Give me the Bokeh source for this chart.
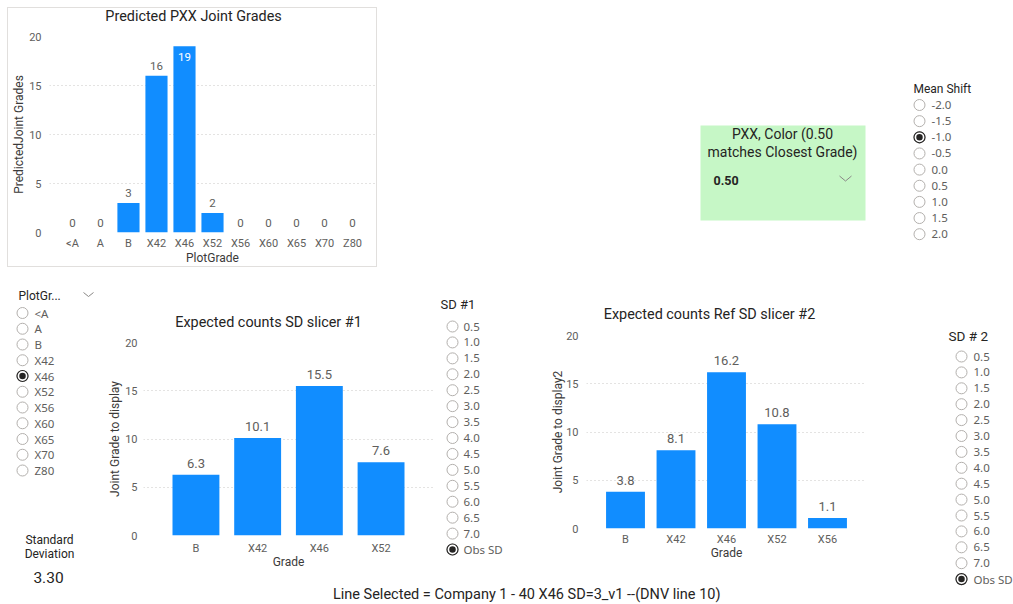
from bokeh.plotting import figure
from bokeh.models import ColumnDataSource, FactorRange, Range1d, LabelSet, FixedTicker
from bokeh.layouts import row, column
from bokeh.embed import file_html
from bokeh.resources import INLINE
from bokeh.core.properties import value

# ---------------- data ----------------
plot_grades = ["<A", "A", "B", "X42", "X46", "X52", "X56", "X60", "X65", "X70", "Z80"]
predicted_counts = [0, 0, 3, 16, 19, 2, 0, 0, 0, 0, 0]

sd1_grades = ["B", "X42", "X46", "X52"]
sd1_counts = [6.3, 10.1, 15.5, 7.6]

sd2_grades = ["B", "X42", "X46", "X52", "X56"]
sd2_counts = [3.8, 8.1, 16.2, 10.8, 1.1]

y_ticks = [0, 5, 10, 15, 20]
y_max = 20

mean_shift_options = ["-2.0", "-1.5", "-1.0", "-0.5", "0.0", "0.5", "1.0", "1.5", "2.0"]
mean_shift_selected = "-1.0"
sd_options = ["0.5", "1.0", "1.5", "2.0", "2.5", "3.0", "3.5", "4.0",
              "4.5", "5.0", "5.5", "6.0", "6.5", "7.0", "Obs SD"]
sd1_selected = "Obs SD"
sd2_selected = "Obs SD"
plot_grade_selected = "X46"
standard_deviation = 3.30
pxx_color = 0.50
line_selected = "Company 1 - 40 X46 SD=3_v1  --(DNV line 10)"

# ---------------- styles ----------------
BLUE = "#118DFF"
DARK = "#252423"
AXIS_C = "#3B3A39"
GREY = "#605E5C"
GRID = "#C8C6C4"
RING = "#B3B0AD"
DIN = "Roboto"
SEGOE = "Noto Sans"
PAGE_W, PAGE_H = 1013, 604


def canvas(x0, y0, w, h):
    """Blank figure whose data space is page pixels (y grows downwards)."""
    p = figure(width=w, height=h, x_range=Range1d(x0, x0 + w),
               y_range=Range1d(y0 + h, y0), min_border=0,
               x_axis_location=None, y_axis_location=None,
               toolbar_location=None, tools="", output_backend="svg")
    p.xgrid.visible = False
    p.ygrid.visible = False
    p.outline_line_color = None
    p.background_fill_color = None
    p.border_fill_color = None
    return p


def box(fig):
    # each figure in its own container so frames are not aligned to neighbours
    return column(fig)


def put_text(p, x, y, s, size="12px", color=DARK, font=DIN, align="left", style="normal"):
    p.text(x=[x], y=[y], text=[s], text_font=value(font), text_font_size=size,
           text_color=color, text_align=align, text_baseline="middle",
           text_font_style=style)


def bar_chart(cats, counts, *, origin, size, frame, title_h, pad, bar_width, title,
              title_at, y_label, x_label, fmt, value_size, value_gap, tick_size,
              axis_size, y_standoff, x_standoff, y_title_standoff, x_title_standoff,
              styles=None):
    """frame = page coords (left, y of top tick, right, y of zero line)."""
    ox, oy = origin
    w, h = size
    fl, ft, fr, fb = frame

    head = canvas(ox, oy, w, title_h)
    put_text(head, title_at[0], title_at[1], title, size="14.4px", align="center")

    cy = oy + title_h
    ch = h - title_h
    p = figure(width=w, height=ch,
               x_range=FactorRange(*cats, range_padding=pad),
               y_range=Range1d(0, y_max),
               min_border_left=fl - ox, min_border_right=ox + w - fr,
               min_border_top=ft - cy, min_border_bottom=cy + ch - fb,
               toolbar_location=None, tools="", output_backend="svg")
    p.outline_line_color = None
    p.background_fill_color = None
    p.border_fill_color = None
    p.xgrid.visible = False
    p.ygrid.grid_line_color = GRID
    p.ygrid.grid_line_dash = "1 3"
    p.ygrid.grid_line_width = 1
    p.yaxis.ticker = FixedTicker(ticks=y_ticks)

    p.axis.axis_line_color = None
    p.axis.major_tick_line_color = None
    p.axis.minor_tick_line_color = None
    p.axis.major_tick_in = 0
    p.axis.major_tick_out = 0
    p.axis.minor_tick_in = 0
    p.axis.minor_tick_out = 0
    p.axis.major_label_text_font = DIN
    p.axis.major_label_text_font_size = tick_size
    p.axis.major_label_text_color = GREY
    p.axis.axis_label_text_font = DIN
    p.axis.axis_label_text_font_size = axis_size
    p.axis.axis_label_text_font_style = "normal"
    p.axis.axis_label_text_color = AXIS_C
    p.yaxis.axis_label = y_label
    p.xaxis.axis_label = x_label
    p.yaxis.major_label_standoff = y_standoff
    p.xaxis.major_label_standoff = x_standoff
    p.yaxis.axis_label_standoff = y_title_standoff
    p.xaxis.axis_label_standoff = x_title_standoff

    src = ColumnDataSource(dict(cat=cats, val=counts))
    p.vbar(x="cat", top="val", width=bar_width, source=src,
           fill_color=BLUE, line_color=None)

    # data labels: above the bar, or inside it when there is no room on top
    inside = [v > 0.9 * y_max for v in counts]
    out_src = ColumnDataSource(dict(
        cat=[c for c, i in zip(cats, inside) if not i],
        val=[v for v, i in zip(counts, inside) if not i],
        txt=[fmt.format(v) for v, i in zip(counts, inside) if not i]))
    in_src = ColumnDataSource(dict(
        cat=[c for c, i in zip(cats, inside) if i],
        val=[v for v, i in zip(counts, inside) if i],
        txt=[fmt.format(v) for v, i in zip(counts, inside) if i]))
    p.add_layout(LabelSet(x="cat", y="val", text="txt", source=out_src,
                          y_offset=value_gap, text_align="center",
                          text_baseline="alphabetic", text_font=value(DIN),
                          text_font_size=value_size, text_color=GREY))
    p.add_layout(LabelSet(x="cat", y="val", text="txt", source=in_src,
                          y_offset=-15, text_align="center",
                          text_baseline="alphabetic", text_font=value(DIN),
                          text_font_size=value_size, text_color="white"))

    wrap = column(box(head), box(p))
    if styles:
        wrap.styles = styles
    return wrap


def slicer(p, options, selected, *, circle_x, text_x, first_y, step):
    n = len(options)
    ys = [first_y + i * step for i in range(n)]
    p.scatter(x=[circle_x] * n, y=ys, size=11, fill_color="white",
              line_color=RING, line_width=1)
    k = options.index(selected)
    p.scatter(x=[circle_x], y=[ys[k]], size=11, fill_color="white",
              line_color=DARK, line_width=1.2)
    p.scatter(x=[circle_x], y=[ys[k]], size=6.5, fill_color=DARK, line_color=None)
    p.text(x=[text_x] * n, y=ys, text=options, text_font=value(SEGOE),
           text_font_size="11.5px", text_color=GREY, text_align="left",
           text_baseline="middle")


def chevron(p, cx, cy, half=6, depth=5):
    p.line(x=[cx - half, cx, cx + half], y=[cy - depth / 2, cy + depth / 2, cy - depth / 2],
           line_color="#8A8886", line_width=1)


# ---------------- top band ----------------
chart1 = bar_chart(plot_grades, predicted_counts,
                   origin=(0, 0), size=(384, 274), frame=(49, 36, 375, 232), title_h=28,
                   pad=0.058, bar_width=0.79, title="Predicted PXX Joint Grades",
                   title_at=(193, 16), y_label="PredictedJoint Grades", x_label="PlotGrade",
                   fmt="{:.0f}", value_size="11.5px", value_gap=6, tick_size="11px",
                   axis_size="12px", y_standoff=8, x_standoff=4,
                   y_title_standoff=0, x_title_standoff=-2,
                   styles={"box-shadow": "inset 0 0 0 7px #FFFFFF, inset 0 0 0 8px #E1DFDD"})

top_right = canvas(384, 0, PAGE_W - 384, 274)
top_right.quad(left=[700], right=[865], top=[125], bottom=[220],
               fill_color="#C6F7C6", line_color=None)
put_text(top_right, 782, 133, "PXX, Color (0.50", size="14px", align="center")
put_text(top_right, 782, 151, "matches Closest Grade)", size="14px", align="center")
put_text(top_right, 713, 180, "{:.2f}".format(pxx_color), size="12.5px", style="bold")
chevron(top_right, 845, 178)
put_text(top_right, 913, 88, "Mean Shift", size="12px")
slicer(top_right, mean_shift_options, mean_shift_selected,
       circle_x=919, text_x=931, first_y=104.5, step=16.15)

# ---------------- middle band ----------------
left = canvas(0, 274, 100, 312)
put_text(left, 18, 295, "PlotGr...", size="12px")
chevron(left, 88, 294, half=5, depth=4)
slicer(left, plot_grades, plot_grade_selected,
       circle_x=22, text_x=34, first_y=312.5, step=15.75)
put_text(left, 49, 539, "Standard", size="12px", align="center")
put_text(left, 49, 553, "Deviation", size="12px", align="center")
put_text(left, 48, 577, "{:.2f}".format(standard_deviation), size="15.5px", align="center")

chart2 = bar_chart(sd1_grades, sd1_counts,
                   origin=(100, 274), size=(337, 312), frame=(143, 342, 433, 535), title_h=60,
                   pad=0.175, bar_width=0.76, title="Expected counts SD slicer #1",
                   title_at=(268, 322), y_label="Joint Grade to display", x_label="Grade",
                   fmt="{:.1f}", value_size="13px", value_gap=7, tick_size="11px",
                   axis_size="12px", y_standoff=6, x_standoff=6,
                   y_title_standoff=0, x_title_standoff=-3)

sd1_box = canvas(437, 274, 108, 312)
put_text(sd1_box, 440, 304, "SD #1", size="13px")
slicer(sd1_box, sd_options, sd1_selected,
       circle_x=452, text_x=463, first_y=326, step=15.93)

chart3 = bar_chart(sd2_grades, sd2_counts,
                   origin=(545, 274), size=(335, 312), frame=(586, 335, 866, 528), title_h=53,
                   pad=0.109, bar_width=0.77, title="Expected counts Ref SD slicer #2",
                   title_at=(709, 314), y_label="Joint Grade to display2", x_label="Grade",
                   fmt="{:.1f}", value_size="13px", value_gap=7, tick_size="11px",
                   axis_size="12px", y_standoff=8, x_standoff=4,
                   y_title_standoff=-2, x_title_standoff=-3)

sd2_box = canvas(880, 274, PAGE_W - 880, 312)
put_text(sd2_box, 948, 335, "SD # 2", size="13.5px")
slicer(sd2_box, sd_options, sd2_selected,
       circle_x=961, text_x=973, first_y=356, step=15.9)

# ---------------- bottom band ----------------
bottom = canvas(0, 586, PAGE_W, 18)
put_text(bottom, 528, 594, "Line Selected = " + line_selected, size="14.5px", align="center")

page = column(row(chart1, box(top_right)),
              row(box(left), chart2, box(sd1_box), chart3, box(sd2_box)),
              box(bottom))

with open("out.html", "w") as f:
    f.write(file_html(page, INLINE))
